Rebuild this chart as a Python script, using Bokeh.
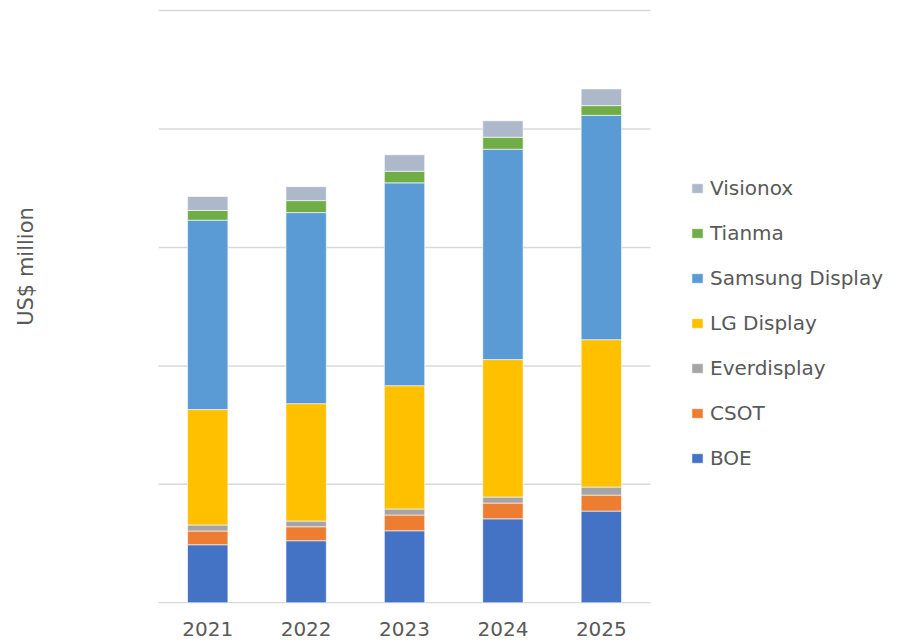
import math
from bokeh.plotting import figure
from bokeh.models import Legend, LegendItem, FixedTicker, Label, Range1d
from bokeh.embed import file_html
from bokeh.resources import INLINE

years = [2021, 2022, 2023, 2024, 2025]
boe = [490, 524, 608, 709, 774]
csot = [116, 118, 133, 133, 135]
everdisplay = [51, 48, 51, 51, 68]
lg_display = [974, 991, 1041, 1160, 1244]
samsung_display = [1599, 1613, 1712, 1776, 1894]
tianma = [82, 101, 98, 101, 82]
visionox = [118, 118, 139, 139, 141]

series = ["BOE", "CSOT", "Everdisplay", "LG Display", "Samsung Display", "Tianma", "Visionox"]
colors = ["#4472C4", "#ED7D31", "#A5A5A5", "#FFC000", "#5B9BD5", "#70AD47", "#ADB9CA"]
grid_ticks = [0, 1000, 2000, 3000, 4000, 5000]

data = {"years": years, "BOE": boe, "CSOT": csot, "Everdisplay": everdisplay,
        "LG Display": lg_display, "Samsung Display": samsung_display,
        "Tianma": tianma, "Visionox": visionox}

p = figure(width=898, height=644, output_backend="svg", toolbar_location=None,
           x_range=Range1d(2018.894, 2028.02), y_range=Range1d(-5.9, 5084.4),
           y_axis_location=None,
           min_border_left=0, min_border_right=0, min_border_top=0, min_border_bottom=41)

# horizontal gridlines spanning only the category area
p.segment(x0=[years[0] - 0.5] * len(grid_ticks), x1=[years[-1] + 0.5] * len(grid_ticks),
          y0=grid_ticks, y1=grid_ticks, line_color="#d9d9d9", line_width=1.5)

renderers = p.vbar_stack(series, x="years", width=0.41, color=colors, source=data,
                         line_color="white", line_width=0.6)

p.outline_line_color = None
p.grid.visible = False

p.xaxis.ticker = FixedTicker(ticks=years)
p.xaxis.axis_line_color = None
p.xaxis.major_tick_line_color = None
p.xaxis.minor_tick_line_color = None
p.xaxis.major_label_standoff = 12
p.xaxis.major_label_text_font = "DejaVu Sans"
p.xaxis.major_label_text_font_size = "20px"
p.xaxis.major_label_text_color = "#595959"

items = [LegendItem(label=s, renderers=[r]) for s, r in zip(series, renderers)][::-1]
legend = Legend(items=items, location=(690, 133), orientation="vertical",
                label_text_font="DejaVu Sans", label_text_font_size="20px",
                label_text_color="#595959", glyph_width=14, glyph_height=12,
                label_standoff=6, label_height=24, spacing=21, padding=0, margin=0,
                border_line_color=None, background_fill_alpha=0)
p.add_layout(legend, "center")

ylab = Label(x=25, y=337, x_units="screen", y_units="screen", text="US$ million",
             angle=math.pi / 2, text_align="center", text_baseline="middle",
             text_font="DejaVu Sans", text_font_size="21px", text_color="#595959")
p.add_layout(ylab)

open("out.html", "w").write(file_html(p, INLINE))
